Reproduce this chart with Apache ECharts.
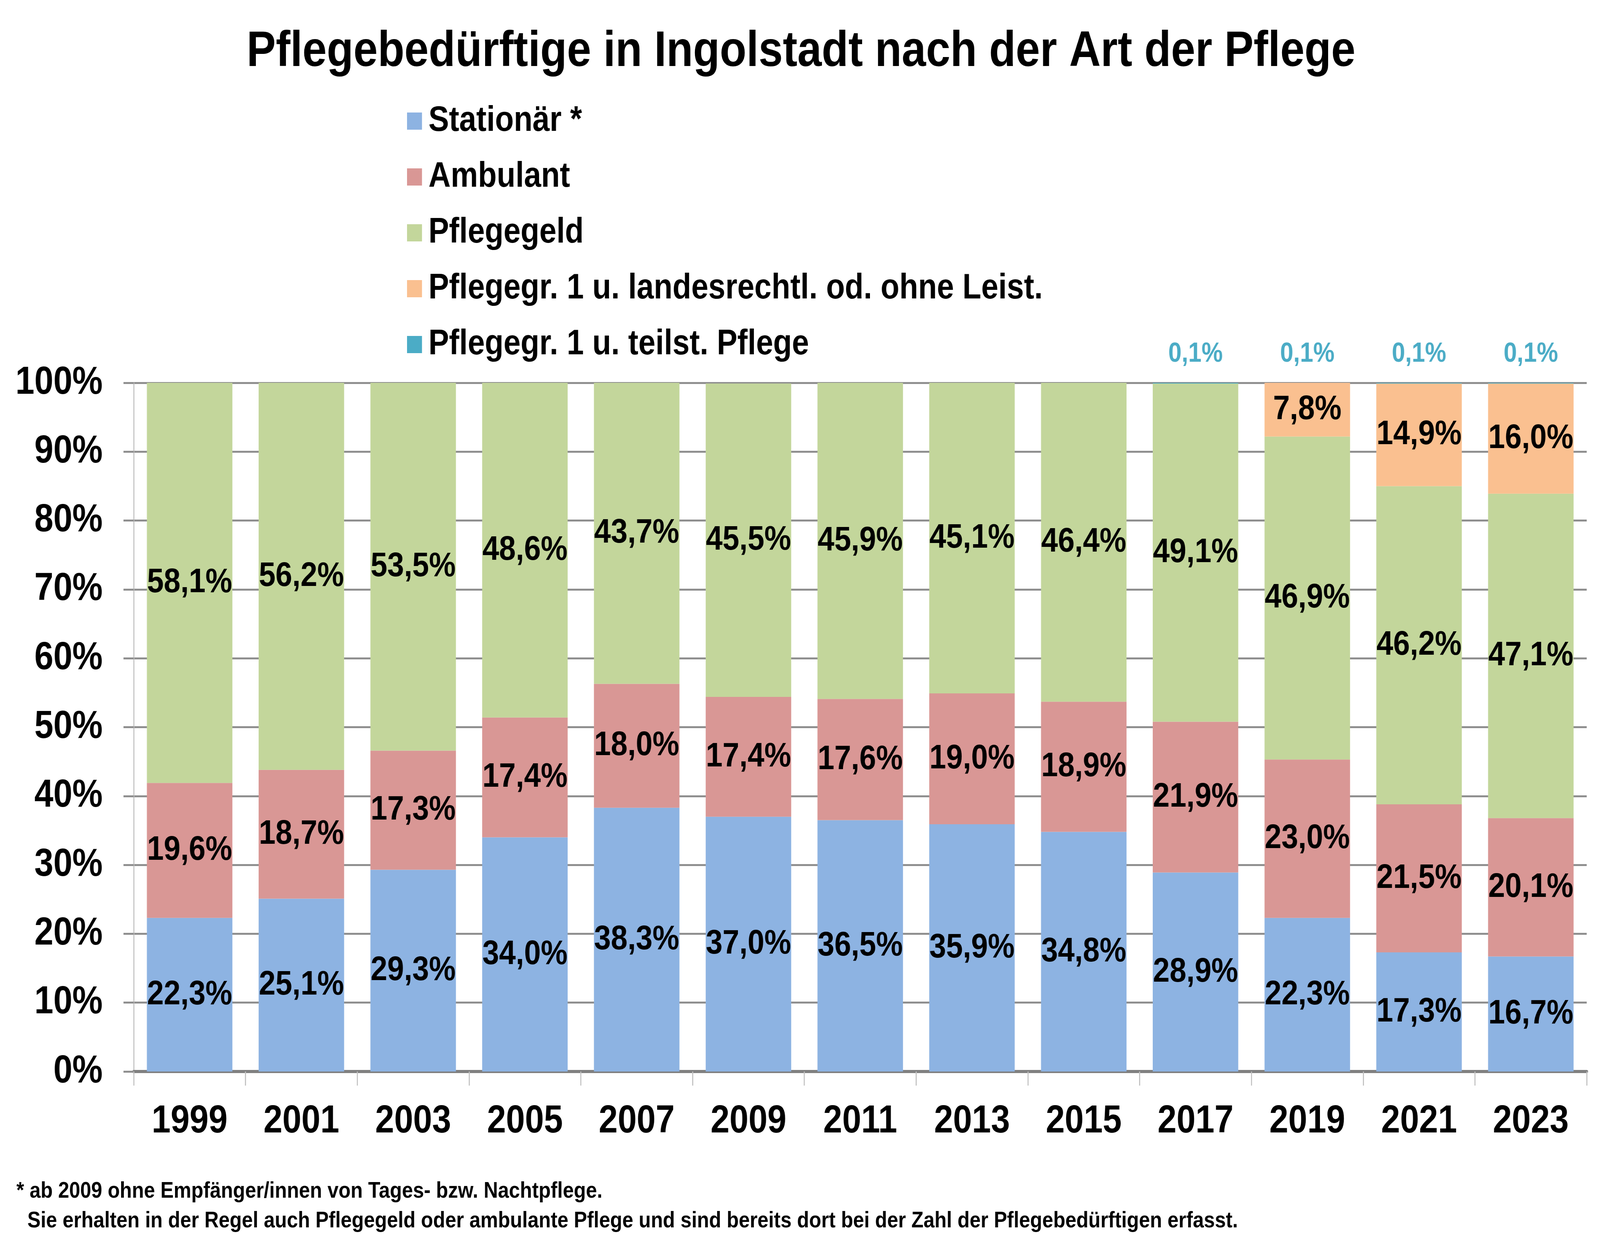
<!DOCTYPE html>
<html>
<head>
<meta charset="utf-8">
<title>Pflegebedürftige in Ingolstadt</title>
<script src="https://cdn.jsdelivr.net/npm/echarts@6/dist/echarts.min.js"></script>
<style>
  html, body { margin: 0; padding: 0; background: #fff; overflow: hidden; }
  #chart { width: 4690px; height: 3182px; transform-origin: 0 0; }
</style>
</head>
<body>
<div id="chart"></div>
<script>
// Kategorien und Werte (Anteile in %)
var years = ['1999', '2001', '2003', '2005', '2007', '2009', '2011', '2013', '2015', '2017', '2019', '2021', '2023']
var stationaer = [22.3, 25.1, 29.3, 34.0, 38.3, 37.0, 36.5, 35.9, 34.8, 28.9, 22.3, 17.3, 16.7]
var ambulant = [19.6, 18.7, 17.3, 17.4, 18.0, 17.4, 17.6, 19.0, 18.9, 21.9, 23.0, 21.5, 20.1]
var pflegegeld = [58.1, 56.2, 53.5, 48.6, 43.7, 45.5, 45.9, 45.1, 46.4, 49.1, 46.9, 46.2, 47.1]
var pg1Landesrecht = [null, null, null, null, null, null, null, null, null, null, 7.8, 14.9, 16.0]
var pg1Teilstationaer = [null, null, null, null, null, null, null, null, null, 0.1, 0.1, 0.1, 0.1]
var seriesNames = ['Stationär *', 'Ambulant', 'Pflegegeld', 'Pflegegr. 1 u. landesrechtl. od. ohne Leist.', 'Pflegegr. 1 u. teilst. Pflege']
var colors = ['#8db3e2', '#d99795', '#c3d69b', '#fac090', '#4bacc6']
var footnote = ['* ab 2009 ohne Empfänger/innen von Tages- bzw. Nachtpflege.',
  '  Sie erhalten in der Regel auch Pflegegeld oder ambulante Pflege und sind bereits dort bei der Zahl der Pflegebedürftigen erfasst.']

var FONT = '"Liberation Sans", Arial, sans-serif'

// chart is laid out at 4690x3182, the window can be smaller -> fit it with a css scale
var el = document.getElementById('chart')
el.style.transform = 'scale(' + (window.innerWidth / 4690) + ',' + (window.innerHeight / 3182) + ')'

function pct(v) {
  return v.toFixed(1).replace('.', ',') + '%'
}

function barSeries(idx, data, label) {
  return {
    name: seriesNames[idx],
    type: 'bar',
    stack: 'sum',
    data: data,
    barCategoryGap: '23.5%',
    itemStyle: { color: colors[idx] },
    label: label || {
      show: true,
      position: 'inside',
      color: '#000',
      fontFamily: FONT,
      fontWeight: 'bold',
      fontSize: 88,
      formatter: function (p) { return p.value ? pct(p.value) : '' }
    }
  }
}

var chart = echarts.init(el, null, { renderer: 'canvas', width: 4690, height: 3182 })

var option = {
  animation: false,
  title: {
    text: 'Pflegebedürftige in Ingolstadt nach der Art der Pflege',
    left: 723,
    top: 70,
    padding: 0,
    textStyle: { fontFamily: FONT, fontWeight: 'bold', fontSize: 128, color: '#000' }
  },
  legend: {
    orient: 'vertical',
    left: 1193,
    top: 260,
    padding: 0,
    itemWidth: 44,
    itemHeight: 44,
    itemGap: 43,
    icon: 'rect',
    data: seriesNames,
    textStyle: { fontFamily: FONT, fontWeight: 'bold', fontSize: 90, color: '#000', lineHeight: 100, padding: [0, 0, 0, 14] }
  },
  grid: {
    left: 392,
    right: 39,
    top: 980,
    bottom: 439,
    containLabel: false
  },
  xAxis: {
    type: 'category',
    data: years,
    axisLine: { lineStyle: { color: '#808080', width: 8 } },
    axisTick: { show: true, interval: 0, length: 36, lineStyle: { color: '#bfbfbf', width: 3 } },
    axisLabel: { interval: 0, margin: 78, color: '#000', fontFamily: FONT, fontWeight: 'bold', fontSize: 100 }
  },
  yAxis: {
    type: 'value',
    min: 0,
    max: 100,
    interval: 10,
    axisLine: { show: true, lineStyle: { color: '#bfbfbf', width: 3 } },
    axisTick: { show: true, length: 30, lineStyle: { color: '#8f8f8f', width: 5 } },
    splitLine: { lineStyle: { color: '#8f8f8f', width: 5 } },
    axisLabel: { margin: 91, color: '#000', fontFamily: FONT, fontWeight: 'bold', fontSize: 100, formatter: '{value}%' }
  },
  series: [
    barSeries(0, stationaer),
    barSeries(1, ambulant),
    barSeries(2, pflegegeld),
    barSeries(3, pg1Landesrecht),
    barSeries(4, pg1Teilstationaer, {
      show: true,
      position: 'top',
      distance: 38,
      color: '#4bacc6',
      fontFamily: FONT,
      fontWeight: 'bold',
      fontSize: 70,
      formatter: function (p) { return p.value ? pct(p.value) : '' }
    })
  ],
  graphic: [
    {
      type: 'text',
      left: 48,
      top: 3012,
      style: { text: footnote.join('\n'), fill: '#000', font: 'bold 58px ' + FONT, lineHeight: 76 }
    }
  ]
}

chart.setOption(option)
</script>
</body>
</html>
